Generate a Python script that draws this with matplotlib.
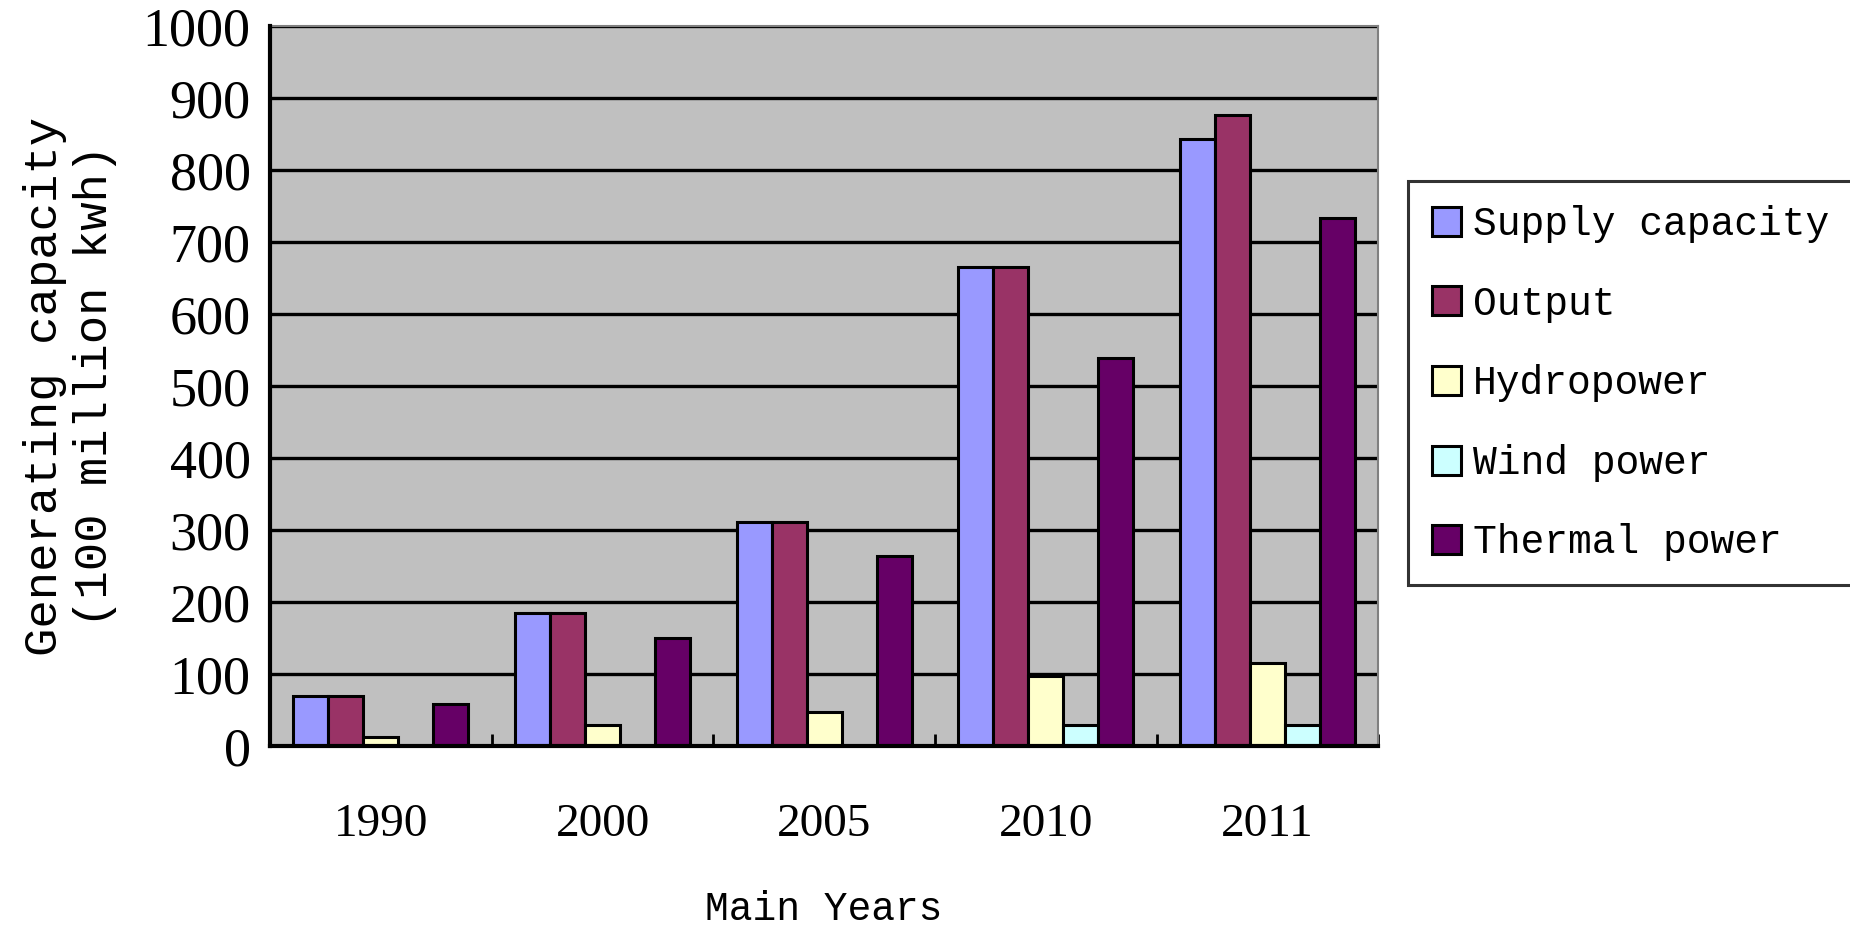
import numpy as np
import matplotlib
matplotlib.use("Agg")
import matplotlib.pyplot as plt

# generation by main year (100 million kwh)
years = ['1990', '2000', '2005', '2010', '2011']
supply = [69, 185, 311, 665, 843]
output = [69, 185, 311, 665, 877]
hydro = [12, 29, 47, 98, 116]
wind = [0, 0, 0, 29, 29]
thermal = [58, 150, 264, 539, 734]

series = [supply, output, hydro, wind, thermal]
names = ['Supply capacity', 'Output', 'Hydropower', 'Wind power', 'Thermal power']
colors = ['#9999FF', '#993366', '#FFFFCC', '#CCFFFF', '#660066']

serif = 'Liberation Serif'
mono = 'Liberation Mono'

fig = plt.figure(figsize=(18.5, 9.35), dpi=100)
ax = fig.add_axes([0.146, 0.202, 0.599, 0.770])
ax.set_facecolor('#C0C0C0')

x = np.arange(len(years))
w = 0.158
for i in range(len(series)):
    ax.bar(x + (i - 2) * w, series[i], w, color=colors[i], edgecolor='black',
           linewidth=2.2, label=names[i], zorder=3)

ax.set_ylim(0, 1000)
ax.set_xlim(-0.5, len(years) - 0.5)
ax.set_yticks(np.arange(0, 1001, 100))
ax.yaxis.grid(True, color='black', linewidth=2.4, zorder=1)
ax.set_axisbelow(True)

ax.set_xticks(x)
ax.set_xticklabels(years, fontfamily=serif, fontsize=34)
ax.set_xticks(np.arange(-0.5, len(years)), minor=True)
ax.tick_params(axis='x', which='major', length=0, pad=41)
ax.tick_params(axis='x', which='minor', direction='in', length=9, width=2)
ax.tick_params(axis='y', length=0, pad=14, labelsize=39)
for t in ax.get_yticklabels():
    t.set_fontfamily(serif)

for s in ['left', 'bottom']:
    ax.spines[s].set_color('black')
    ax.spines[s].set_linewidth(3)
    ax.spines[s].set_zorder(4)
for s in ['top', 'right']:
    ax.spines[s].set_color('#808080')
    ax.spines[s].set_linewidth(1.5)

ax.set_ylabel('Generating capacity\n(100 million kwh)', fontfamily=mono,
              fontsize=34, linespacing=1.2, va='center')
ax.yaxis.set_label_coords(-0.1805, 0.5)
ax.set_xlabel('Main Years', fontfamily=mono, fontsize=28.5, va='center')
ax.xaxis.set_label_coords(0.5, -0.226)

leg = fig.legend(loc='center left', bbox_to_anchor=(0.761, 0.59),
                 prop={'family': mono, 'size': 28.5}, frameon=True,
                 fancybox=False, handlelength=0.75, handleheight=0.75,
                 handletextpad=0.3, labelspacing=1.05, borderpad=0.6,
                 borderaxespad=0)
leg.get_frame().set_edgecolor('black')
leg.get_frame().set_linewidth(2.2)

fig.savefig('out.png', dpi=100, facecolor='white')
